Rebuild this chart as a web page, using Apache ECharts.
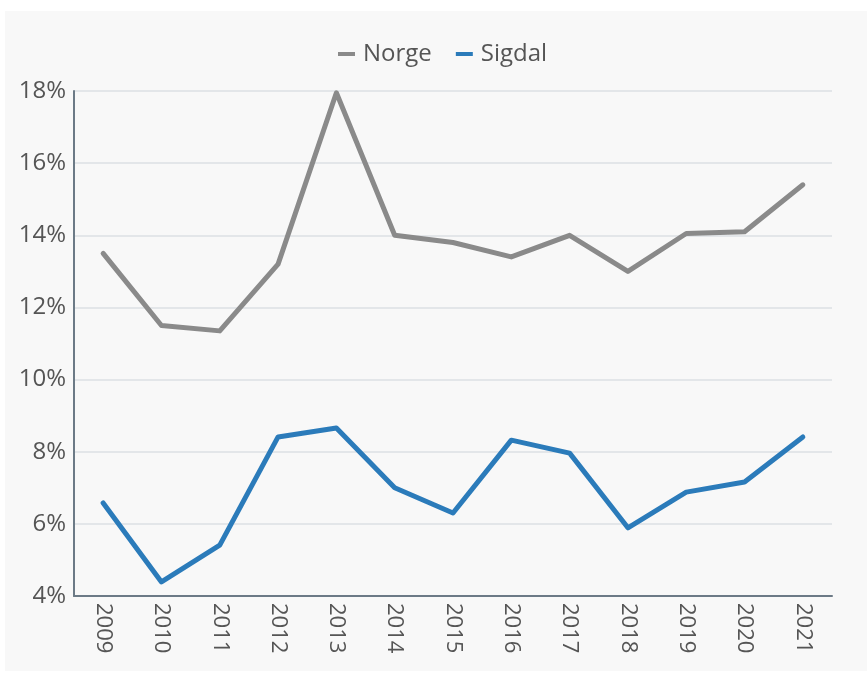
<!DOCTYPE html>
<html>
<head>
<meta charset="utf-8">
<script src="https://cdn.jsdelivr.net/npm/echarts@6/dist/echarts.min.js"></script>
<style>
  html, body { margin: 0; padding: 0; background: #ffffff; }
  #panel { position: absolute; left: 5px; top: 11px; width: 862px; height: 660px; background: #f8f8f8; }
  #chart { width: 867px; height: 677px; position: absolute; left: 0; top: 0; }
</style>
</head>
<body>
<div id="panel"></div>
<div id="chart"></div>
<script>
const years = ['2009', '2010', '2011', '2012', '2013', '2014', '2015', '2016', '2017', '2018', '2019', '2020', '2021'];
const norge = [13.5, 11.5, 11.35, 13.2, 17.95, 14.0, 13.8, 13.4, 14.0, 13.0, 14.05, 14.1, 15.4];
const sigdal = [6.58, 4.39, 5.41, 8.41, 8.66, 7.0, 6.3, 8.32, 7.96, 5.89, 6.88, 7.16, 8.41];

const font = '"Open Sans", "Noto Sans", sans-serif';
const chart = echarts.init(document.getElementById('chart'));

chart.setOption({
  backgroundColor: 'transparent',
  textStyle: { fontFamily: font },
  legend: {
    top: 37,
    left: 333,
    itemWidth: 17,
    itemHeight: 4,
    itemGap: 24,
    icon: 'rect',
    textStyle: { fontSize: 24, color: '#555', fontFamily: font, padding: [0, 0, 0, 3] },
    data: ['Norge', 'Sigdal']
  },
  grid: { left: 74, right: 35, top: 91, bottom: 81 },
  xAxis: {
    type: 'category',
    data: years,
    boundaryGap: true,
    axisLine: { lineStyle: { color: '#6c7a86', width: 2 } },
    axisTick: { show: false },
    axisLabel: { rotate: -90, fontSize: 22, color: '#555', margin: 7, fontFamily: font }
  },
  yAxis: {
    type: 'value',
    min: 4,
    max: 18,
    interval: 2,
    axisLine: { show: true, lineStyle: { color: '#6c7a86', width: 2 } },
    axisTick: { show: false },
    splitLine: { lineStyle: { color: '#dde1e5', width: 1.5 } },
    axisLabel: { formatter: '{value}%', fontSize: 24, color: '#555', margin: 8, fontFamily: font }
  },
  series: [
    {
      name: 'Norge',
      type: 'line',
      data: norge,
      symbol: 'none',
      color: '#8a8a8a',
      lineStyle: { width: 5, cap: 'round', join: 'round' }
    },
    {
      name: 'Sigdal',
      type: 'line',
      data: sigdal,
      symbol: 'none',
      color: '#2b7bba',
      lineStyle: { width: 5, cap: 'round', join: 'round' }
    }
  ]
});
</script>
</body>
</html>
